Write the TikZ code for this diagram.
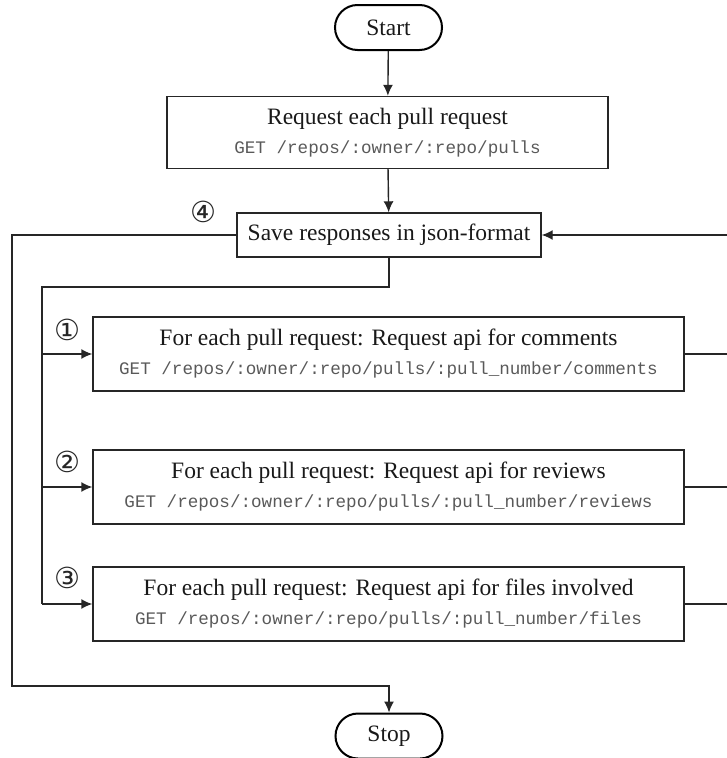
\documentclass[tikz,border=0pt]{standalone}
\usepackage{fontspec}
\setmainfont{Liberation Serif}
\setmonofont{Liberation Mono}
\newfontfamily\circfont{DejaVu Sans}
\usetikzlibrary{arrows.meta,shapes.misc}
\newcommand{\apicall}[1]{\\[1pt]{\fontsize{17.6}{20}\selectfont\ttfamily\color{black!65}#1}}

\begin{document}
\begin{tikzpicture}[x=1pt,y=-1pt]
\tikzstyle{every node}=[font=\fontsize{23.5}{28}\selectfont,text=black!90];
\tikzstyle{terminal}=[draw=black,line width=2pt,rounded rectangle,minimum width=107pt,minimum height=45pt,inner sep=0pt];
\tikzstyle{task}=[draw=black!85,line width=1.4pt,rectangle,align=center,inner sep=0pt];
\tikzstyle{numtag}=[font=\circfont\fontsize{29}{32}\selectfont,inner sep=0pt,text=black!85];
\tikzstyle{wire}=[draw=black!85,line width=1.4pt];
\tikzstyle{flow}=[wire,-{Latex[length=11pt,width=10pt]}];
\useasboundingbox (0,0) rectangle (726,758);

\node[terminal] (start) at (388.5,27.5) {Start};
\node[task,minimum width=441pt,minimum height=72pt] (pulls) at (387.5,132.5)
  {Request each pull request\apicall{GET /repos/:owner/:repo/pulls}};
\node[task,minimum width=304pt,minimum height=44pt] (save) at (389,235) {Save responses in json-format};
\foreach \n/\y/\what/\tail in {a/354/comments/comments, b/487/reviews/reviews, c/604/files involved/files}
  \node[task,minimum width=591pt,minimum height=74pt] (\n) at (388.5,\y)
    {For each pull request: Request api for \what\apicall{GET /repos/:owner/:repo/pulls/:pull\_number/\tail}};
\node[terminal] (stop) at (389,736) {Stop};

% circled step numbers
\node[numtag] (n4) at (203,212) {④};
\node[numtag] (n1) at (67,330) {①};
\node[numtag] (n2) at (67,462) {②};
\node[numtag] (n3) at (67,578) {③};

\coordinate (fork) at (42,287);
\coordinate (back) at (745,235);
\coordinate (loop) at (12,686);

\draw[flow] (start) -- (pulls);
\draw[flow] (pulls) -- (save);
\draw[wire] (save.south) |- (fork) -- (fork |- c.west);
\foreach \n in {a,b,c}
  \draw[flow] (fork |- \n.west) -- (\n.west);
\foreach \n in {a,b,c}
  \draw[wire] (\n.east) -- (back |- \n.east);
\draw[wire] (back |- c.east) -- (back);
\draw[flow] (back) -- (save.east);
\draw[flow] (save.west) -| (loop) -| (stop.north);
\end{tikzpicture}
\end{document}
